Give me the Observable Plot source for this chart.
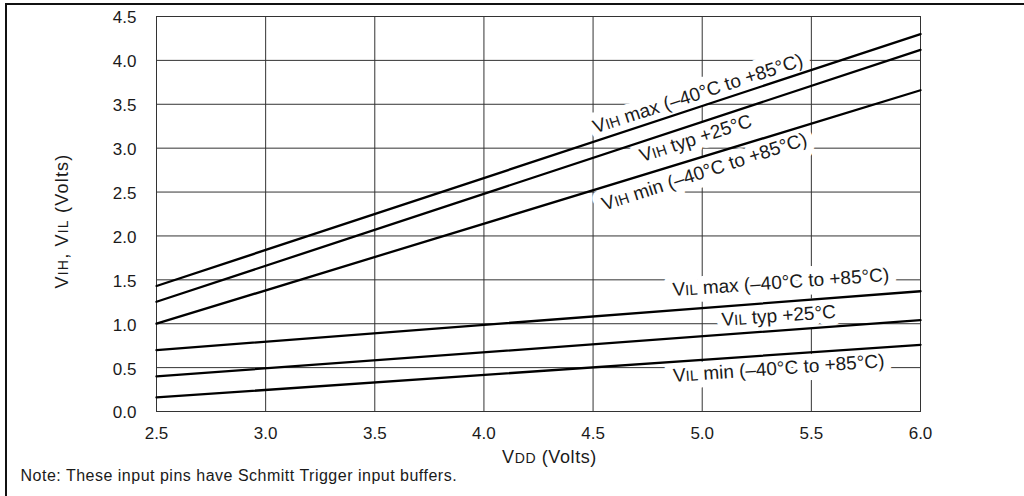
<!DOCTYPE html>
<html>
<head>
<meta charset="utf-8">
<script src="https://cdn.jsdelivr.net/npm/d3@7"></script>
<script src="https://cdn.jsdelivr.net/npm/@observablehq/plot@0.6"></script>
<style>
  html, body { margin: 0; padding: 0; background: #fff; }
  #wrap { position: relative; width: 1024px; height: 496px; overflow: hidden; background: #fff; }
  #border { position: absolute; left: 5px; top: 3px; width: 1100px; height: 600px;
            border-left: 2px solid #111; border-top: 2px solid #111; pointer-events: none; }
  #chart { position: absolute; left: 0; top: 0; }
</style>
</head>
<body>
<div id="wrap"><div id="chart"></div><div id="border"></div></div>
<script>
// ---- data ----
const vdd = [2.5, 6.0];
const vihMax = [1.43, 4.30];
const vihTyp = [1.25, 4.12];
const vihMin = [1.00, 3.66];
const vilMax = [0.70, 1.37];
const vilTyp = [0.40, 1.04];
const vilMin = [0.16, 0.76];
const seriesNames = [
  "VIH max (–40°C to +85°C)",
  "VIH typ +25°C",
  "VIH min (–40°C to +85°C)",
  "VIL max (–40°C to +85°C)",
  "VIL typ +25°C",
  "VIL min (–40°C to +85°C)"
];
const labelX = [4.98, 4.97, 5.01, 5.36, 5.35, 5.35];
const labelY = [3.62, 3.11, 2.73, 1.47, 1.09, 0.49];
const labelAngle = [-18, -18, -18, -4, -4, -4];
const xTicks = [2.5, 3.0, 3.5, 4.0, 4.5, 5.0, 5.5, 6.0];
const yTicks = [0, 0.5, 1.0, 1.5, 2.0, 2.5, 3.0, 3.5, 4.0, 4.5];
const xLabel = "VDD (Volts)";
const yLabel = "VIH, VIL (Volts)";
const note = "Note: These input pins have Schmitt Trigger input buffers.";

// ---- tables built from the arrays ----
const seriesValues = [vihMax, vihTyp, vihMin, vilMax, vilTyp, vilMin];
const rows = [];
seriesValues.forEach((vals, i) => vals.forEach((v, j) => rows.push({series: seriesNames[i], x: vdd[j], y: v})));
const labels = seriesNames.map((t, i) => ({text: t, x: labelX[i], y: labelY[i], a: labelAngle[i]}));

const font = "'Liberation Sans', Arial, Helvetica, sans-serif";
const ink = "#1a1a1a";

const svg = Plot.plot({
  width: 1024,
  height: 496,
  marginLeft: 156,
  marginRight: 104,
  marginTop: 16,
  marginBottom: 85,
  style: {fontFamily: font, fontSize: "17px", color: ink, background: "transparent"},
  x: {domain: [2.5, 6.0], label: null, axis: null},
  y: {domain: [0, 4.5], label: null, axis: null},
  marks: [
    Plot.gridX(xTicks, {stroke: "#333", strokeOpacity: 1, strokeWidth: 1}),
    Plot.gridY(yTicks, {stroke: "#333", strokeOpacity: 1, strokeWidth: 1}),
    Plot.frame({stroke: "#333", strokeWidth: 1}),
    // white knock-out behind the curve labels
    Plot.text(labels, {x: "x", y: "y", text: "text", rotate: "a", fontSize: 19,
      fill: "white", stroke: "white", strokeWidth: 16, textAnchor: "middle"}),
    Plot.text(labels, {x: "x", y: "y", text: "text", rotate: "a", fontSize: 19,
      fill: ink, textAnchor: "middle"}),
    Plot.line(rows, {x: "x", y: "y", z: "series", stroke: "#000", strokeWidth: 2.3}),
    Plot.text([xLabel], {frameAnchor: "bottom", text: d => d, dx: 11, dy: 46, fontSize: 18, fill: ink,
      textAnchor: "middle", lineAnchor: "middle"}),
    Plot.text([yLabel], {frameAnchor: "left", text: d => d, dx: -94, dy: 7, rotate: -90, fontSize: 18, fill: ink,
      textAnchor: "middle", lineAnchor: "middle"}),
    Plot.text([note], {frameAnchor: "bottom-left", text: d => d, dx: -136, dy: 64, textAnchor: "start",
      lineAnchor: "middle", fontSize: 16, fill: ink}),
    Plot.axisX({ticks: xTicks, tickFormat: ".1f", tickSize: 0, tickPadding: 15, label: null, fontSize: 17, fill: ink}),
    Plot.axisY({ticks: yTicks, tickFormat: ".1f", tickSize: 0, tickPadding: 20, dy: 1.5, label: null, fontSize: 17, fill: ink})
  ]
});

// small-caps style subscripts for V_IH, V_IL, V_DD
svg.querySelectorAll("text").forEach(t => {
  const s = t.textContent;
  if (/V(IH|IL|DD)/.test(s) && t.children.length === 0) {
    t.innerHTML = s.replace(/V(IH|IL|DD)/g, 'V<tspan font-size="0.78em">$1</tspan>');
  }
});
// spacing tweaks for the wide reference lettering
svg.querySelectorAll("text").forEach(t => {
  const s = t.textContent;
  if (s.startsWith("VIH, VIL")) t.setAttribute("letter-spacing", "1.2");
  if (s.startsWith("Note:")) t.setAttribute("letter-spacing", "0.5");
  if (s.startsWith("VDD")) t.setAttribute("letter-spacing", "0.6");
});
document.getElementById("chart").appendChild(svg);
</script>
</body>
</html>
